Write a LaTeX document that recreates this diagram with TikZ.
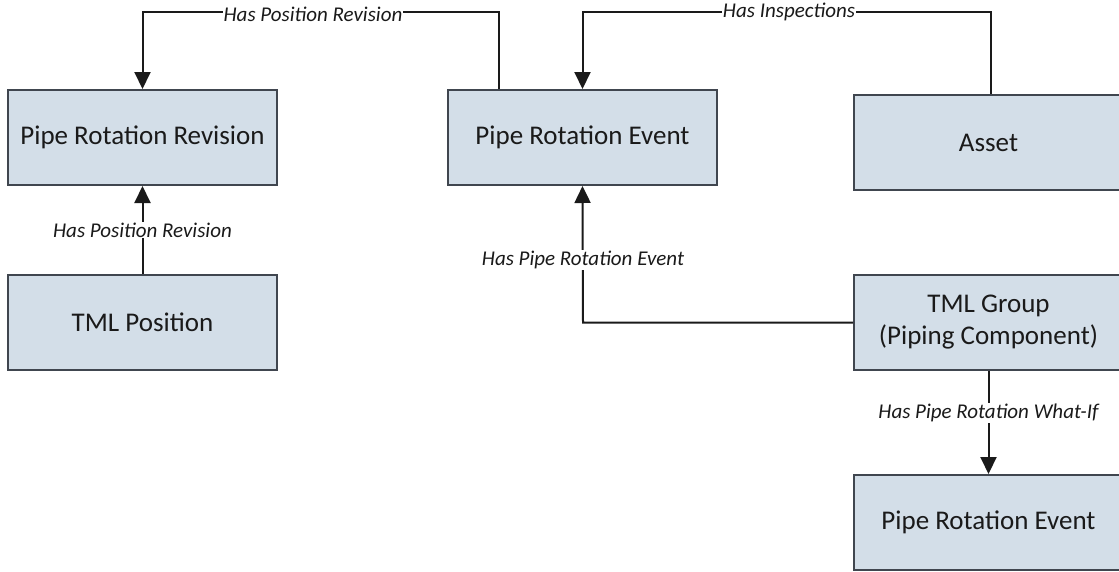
\documentclass[tikz,border=0pt]{standalone}
\usepackage{fontspec}
\setmainfont{Carlito}
\usetikzlibrary{arrows.meta,calc}
\definecolor{boxfill}{HTML}{D3DEE8}
\definecolor{boxline}{HTML}{40464F}
\definecolor{txt}{HTML}{1A1A1A}
\tikzset{
  entity/.style={draw=boxline, line width=2pt, fill=boxfill, minimum width=269pt, minimum height=95pt,
    inner sep=0pt, align=center, font=\fontsize{27}{32}\selectfont, text=txt},
  conn/.style={draw=txt, line width=2pt},
  arr/.style={conn, -{Triangle[length=17pt,width=16pt]}},
  lbl/.style={fill=white, inner sep=1pt, font=\fontsize{21}{24}\selectfont\itshape, text=txt}
}
\begin{document}
\begin{tikzpicture}[x=1pt,y=-1pt]
\useasboundingbox (0,0) rectangle (1119,571);
\begin{scope}
\clip (0,0) rectangle (1119,571);
\node[entity] (prr) at (142.5,137.5) {Pipe Rotation Revision};
\node[entity] (pre) at (582.5,137.5) {Pipe Rotation Event};
\node[entity] (asset) at (988.5,142.5) {Asset};
\node[entity] (tmlpos) at (142.5,322.5) {TML Position};
\node[entity] (tmlgrp) at (988.5,322.5) {TML Group\\(Piping Component)};
\node[entity] (pre2) at (988.5,522.5) {Pipe Rotation Event};

\coordinate (c1) at (499,12);
\coordinate (c2) at (991,12);
\coordinate (c3) at (583,322.5);

\draw[arr] (c1 |- pre.north) -- (c1) -| (prr.north);
\node[lbl] (l1) at (313,14) {Has Position Revision};

\draw[arr] (c2 |- asset.north) -- (c2) -| (pre.north);
\node[lbl] (l2) at (789,12) {Has Inspections};

\draw[arr] (tmlpos.north) -- (prr.south);
\node[lbl] (l3) at (142.5,230) {Has Position Revision};

\draw[arr] (tmlgrp.west) -- (c3) -- (pre.south);
\node[lbl] (l4) at (583,260) {Has Pipe Rotation Event};

\draw[arr] (tmlgrp.south) -- (pre2.north);
\node[lbl] (l5) at (988.5,413) {Has Pipe Rotation What-If};
\end{scope}
\end{tikzpicture}
\end{document}
